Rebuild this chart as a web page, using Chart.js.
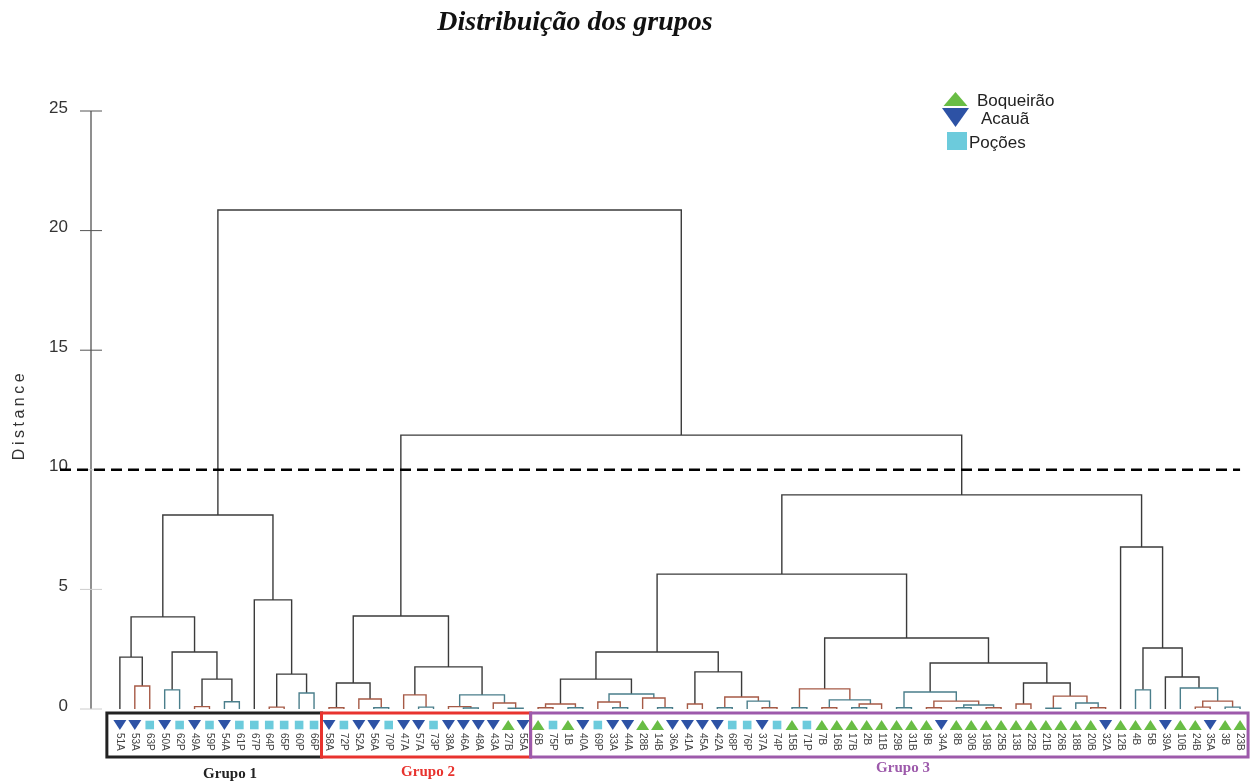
<!DOCTYPE html>
<html>
<head>
<meta charset="utf-8">
<script src="https://cdn.jsdelivr.net/npm/chart.js@4.4.0/dist/chart.umd.min.js"></script>
<style>
  html, body { margin: 0; padding: 0; background: #fff; }
  canvas { display: block; }
</style>
</head>
<body>
<canvas id="dendroChart" width="1255" height="782"></canvas>
<script>
// amostras, na ordem das folhas
const leafLabels = [
  '51A','53A','63P','50A','62P','49A','59P','54A','61P','67P','64P','65P','60P','66P',
  '58A','72P','52A','56A','70P','47A','57A','73P','38A','46A','48A','43A','27B','55A',
  '6B','75P','1B','40A','69P','33A','44A','28B','14B','36A','41A','45A','42A','68P',
  '76P','37A','74P','15B','71P','7B','16B','17B','2B','11B','29B','31B','9B','34A',
  '8B','30B','19B','25B','13B','22B','21B','26B','18B','20B','32A','12B','4B','5B',
  '39A','10B','24B','35A','3B','23B'
];
const siteCodes = ['B', 'A', 'P'];
const siteNames = ['Boqueirão', 'Acauã', 'Poções'];
const groupNames = ['Grupo 1', 'Grupo 2', 'Grupo 3'];
const groupSizes = [14, 14, 48];
const yTicks = [0, 5, 10, 15, 20, 25];
const cutHeight = 10;

// árvore: [esquerda, direita, distância]
const grupo1 = [
  [['51A', ['53A', '63P', 0.96], 2.17],
   [['50A', '62P', 0.80], [['49A', '59P', 0.10], ['54A', '61P', 0.30], 1.25], 2.38], 3.85],
  ['67P', [['64P', '65P', 0.08], ['60P', '66P', 0.67], 1.46], 4.56],
  8.11
];
const grupo2 = [
  [['58A', '72P', 0.05], ['52A', ['56A', '70P', 0.05], 0.42], 1.09],
  [['47A', ['57A', '73P', 0.08], 0.59],
   [['38A', ['46A', '48A', 0.04], 0.10], ['43A', ['27B', '55A', 0.03], 0.25], 0.59], 1.76],
  3.89
];
const g3a1 = [[['6B', '75P', 0.05], ['1B', '40A', 0.05], 0.21],
  [['69P', ['33A', '44A', 0.05], 0.29], ['28B', ['14B', '36A', 0.05], 0.46], 0.63], 1.25];
const g3a2 = [['41A', '45A', 0.21],
  [['42A', '68P', 0.05], ['76P', ['37A', '74P', 0.05], 0.33], 0.50], 1.55];
const g3b1 = [['15B', '71P', 0.05],
  [['7B', '16B', 0.05], [['17B', '2B', 0.05], '11B', 0.21], 0.38], 0.84];
const g3b2 = [['29B', '31B', 0.05],
  [['9B', '34A', 0.05], [['8B', '30B', 0.05], ['19B', '25B', 0.05], 0.17], 0.33], 0.71];
const g3b3 = [['13B', '22B', 0.21],
  [['21B', '26B', 0.03], ['18B', ['20B', '32A', 0.05], 0.25], 0.54], 1.09];
const g3c = ['12B', [['4B', '5B', 0.80],
  ['39A', ['10B', [['24B', '35A', 0.08], ['3B', '23B', 0.08], 0.33], 0.88], 1.34], 2.55], 6.77];
const grupo3 = [[[g3a1, g3a2, 2.38], [g3b1, [g3b2, g3b3, 1.92], 2.97], 5.64], g3c, 8.95];
const raiz = [grupo1, [grupo2, grupo3, 11.45], 20.86];

const siteColors = { B: '#69bd45', A: '#2d52a5', P: '#6ccbdc' };
const groupColors = ['#222222', '#e8332e', '#9d5aab'];
const lowColors = ['#a65a46', '#4a7e8b'];

// monta os "U" do dendrograma
const links = [];
function montar(no) {
  if (typeof no === 'string') return { x: leafLabels.indexOf(no), h: 0 };
  const a = montar(no[0]);
  const b = montar(no[1]);
  links.push({ x1: a.x, h1: a.h, x2: b.x, h2: b.h, h: no[2] });
  return { x: (a.x + b.x) / 2, h: no[2] };
}
montar(raiz);

let low = 0;
const datasets = links.map(lk => {
  let cor = '#3b3b3b';
  if (lk.h < 1) { cor = lowColors[low % 2]; low++; }
  return {
    data: [
      { x: lk.x1, y: lk.h1 }, { x: lk.x1, y: lk.h },
      { x: lk.x2, y: lk.h }, { x: lk.x2, y: lk.h2 }
    ],
    borderColor: cor,
    borderWidth: 1.4,
    pointRadius: 0,
    tension: 0,
    fill: false
  };
});

// w, h = meia largura, meia altura
function marcador(ctx, code, cx, cy, w, h) {
  ctx.fillStyle = siteColors[code];
  ctx.beginPath();
  if (code === 'B') {
    ctx.moveTo(cx - w, cy + h);
    ctx.lineTo(cx + w, cy + h);
    ctx.lineTo(cx, cy - h);
  } else if (code === 'A') {
    ctx.moveTo(cx - w, cy - h);
    ctx.lineTo(cx + w, cy - h);
    ctx.lineTo(cx, cy + h);
  } else {
    ctx.rect(cx - w, cy - h, w * 2, h * 2);
  }
  ctx.closePath();
  ctx.fill();
}

const decor = {
  id: 'decor',
  afterDatasetsDraw(chart) {
    const { ctx, scales: { x, y } } = chart;
    const y0 = y.getPixelForValue(0);
    ctx.save();

    // título
    ctx.fillStyle = '#111';
    ctx.font = 'italic bold 28px "Liberation Serif", serif';
    ctx.textAlign = 'center';
    ctx.textBaseline = 'middle';
    ctx.fillText('Distribuição dos grupos', 575, 23);

    // eixo y
    const ax = x.left + 1;
    ctx.strokeStyle = '#6a6a6a';
    ctx.lineWidth = 1.5;
    ctx.beginPath();
    ctx.moveTo(ax, y.getPixelForValue(25));
    ctx.lineTo(ax, y0);
    ctx.stroke();
    ctx.font = '17px "Liberation Sans", Arial, sans-serif';
    ctx.textAlign = 'right';
    yTicks.forEach(v => {
      const py = y.getPixelForValue(v);
      ctx.strokeStyle = v >= 15 ? '#555' : '#ccc';
      ctx.lineWidth = 1;
      ctx.beginPath();
      ctx.moveTo(ax - 11, py);
      ctx.lineTo(ax + 11, py);
      ctx.stroke();
      ctx.fillStyle = '#333';
      ctx.fillText(String(v), 68, py - 3);
    });

    // título do eixo, espaçado
    ctx.save();
    ctx.translate(24, 415);
    ctx.rotate(-Math.PI / 2);
    ctx.font = '16px "Liberation Sans", Arial, sans-serif';
    ctx.textAlign = 'left';
    ctx.textBaseline = 'alphabetic';
    const palavra = 'Distance';
    let total = 0;
    for (const c of palavra) total += ctx.measureText(c).width + 3.5;
    let px = -total / 2;
    for (const c of palavra) {
      ctx.fillText(c, px, 0);
      px += ctx.measureText(c).width + 3.5;
    }
    ctx.restore();

    // linha de corte
    ctx.strokeStyle = '#000';
    ctx.lineWidth = 2.6;
    ctx.setLineDash([11, 6]);
    ctx.beginPath();
    ctx.moveTo(60, y.getPixelForValue(cutHeight));
    ctx.lineTo(x.getPixelForValue(leafLabels.length - 1), y.getPixelForValue(cutHeight));
    ctx.stroke();
    ctx.setLineDash([]);

    // marcadores e rótulos das folhas
    leafLabels.forEach((lab, i) => {
      const cx = x.getPixelForValue(i);
      const code = lab.slice(-1);
      if (code === 'P') marcador(ctx, code, cx, y0 + 16, 4.3, 4.3);
      else marcador(ctx, code, cx, y0 + 16, 6.5, 5);
      ctx.save();
      ctx.translate(cx, y0 + 24);
      ctx.rotate(Math.PI / 2);
      ctx.fillStyle = '#444';
      ctx.font = '10px "Liberation Sans", Arial, sans-serif';
      ctx.textAlign = 'left';
      ctx.textBaseline = 'middle';
      ctx.fillText(lab, 0, 0);
      ctx.restore();
    });

    // caixas dos grupos
    let ini = 0;
    groupSizes.forEach((n, g) => {
      const fim = ini + n - 1;
      const esq = g === 0 ? x.getPixelForValue(ini) - 13 : (x.getPixelForValue(ini - 1) + x.getPixelForValue(ini)) / 2;
      const dir = g === groupSizes.length - 1 ? x.getPixelForValue(fim) + 8 : (x.getPixelForValue(fim) + x.getPixelForValue(fim + 1)) / 2;
      ctx.strokeStyle = groupColors[g];
      ctx.lineWidth = 3;
      ctx.strokeRect(esq, y0 + 4, dir - esq, 44);
      ini += n;
    });

    // nomes dos grupos
    ctx.font = 'bold 15px "Liberation Serif", serif';
    ctx.textAlign = 'center';
    ctx.textBaseline = 'middle';
    const gx = [230, 428, 903];
    const gy = [774, 772, 768];
    groupNames.forEach((nome, g) => {
      ctx.fillStyle = groupColors[g];
      ctx.fillText(nome, gx[g], gy[g]);
    });

    // legenda
    const legY = [99, 117.5, 141];
    const legX = [977, 981, 969];
    const legW = [12, 13.5, 10];
    const legH = [7, 9.5, 9];
    ctx.font = '17px "Liberation Sans", Arial, sans-serif';
    ctx.textAlign = 'left';
    ctx.textBaseline = 'middle';
    siteCodes.forEach((code, k) => {
      marcador(ctx, code, code === 'P' ? 957 : 955.5, legY[k], legW[k], legH[k]);
      ctx.fillStyle = '#222';
      ctx.fillText(siteNames[k], legX[k], legY[k] + 2);
    });

    ctx.restore();
  }
};

new Chart(document.getElementById('dendroChart').getContext('2d'), {
  type: 'line',
  data: { datasets },
  options: {
    responsive: false,
    devicePixelRatio: 1,
    animation: false,
    layout: { padding: { left: 90, right: 0, top: 111, bottom: 73 } },
    scales: {
      x: { type: 'linear', min: -2, max: 76, display: false },
      y: { type: 'linear', min: 0, max: 25, display: false }
    },
    plugins: {
      legend: { display: false },
      tooltip: { enabled: false },
      title: { display: false }
    }
  },
  plugins: [decor]
});
</script>
</body>
</html>
